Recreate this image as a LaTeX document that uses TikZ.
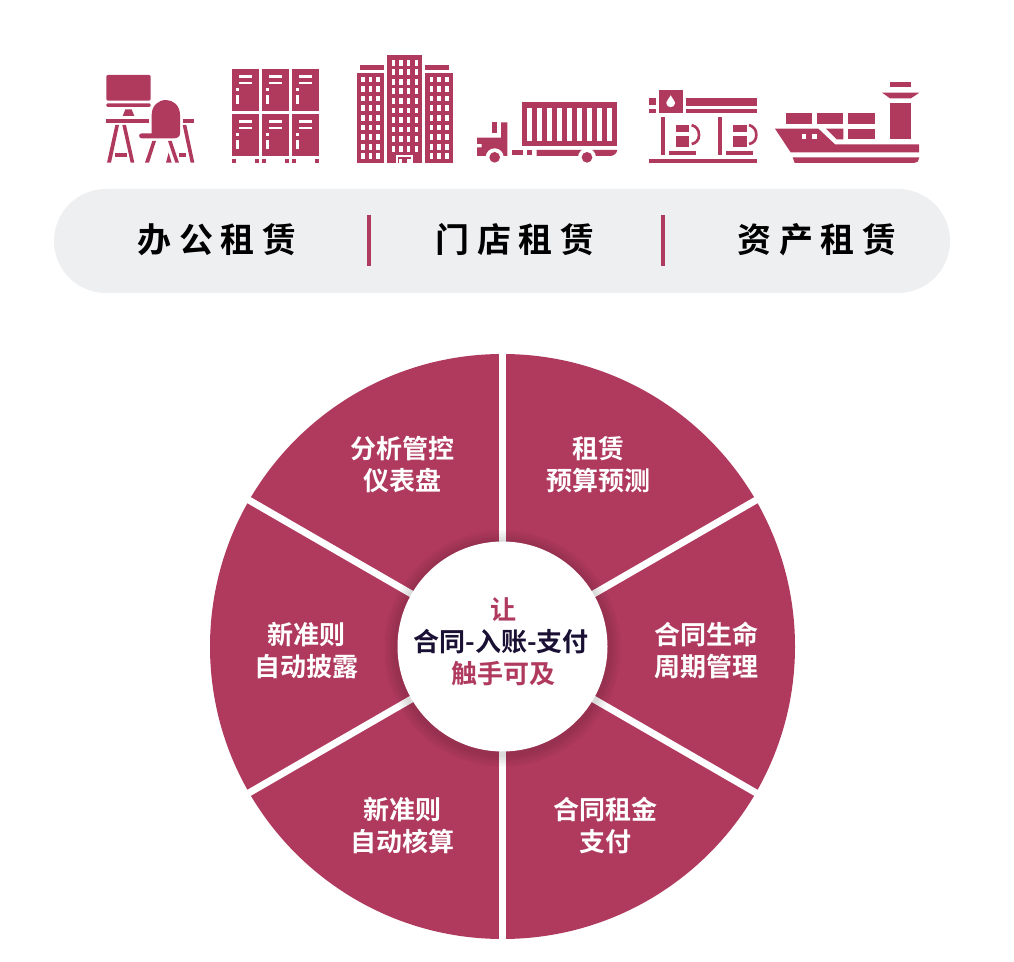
\documentclass[tikz,border=0pt]{standalone}
\usepackage{fontspec}
\newfontfamily\cjk{Noto Sans CJK SC}[BoldFont={Noto Sans CJK SC Bold}]
\definecolor{rose}{HTML}{B03A5E}
\definecolor{pill}{HTML}{EEEFF1}
\definecolor{ink}{HTML}{1A1033}
\newcommand{\gp}{\kern 5.9pt}
\tikzset{
  ic/.style={fill=rose,draw=none},
  wt/.style={fill=white,draw=none},
  zoomed/.style={x=0.25pt,y=-0.25pt},
  gapline/.style={draw=white,line width=5.2pt},
  divider/.style={draw=rose,line width=3pt},
  tab/.style={font=\cjk\bfseries\fontsize{25.5}{30}\selectfont,text=black,inner sep=0pt,anchor=center},
  seg/.style={font=\cjk\bfseries\fontsize{19.5}{24}\selectfont,text=white,align=center,inner sep=0pt},
  hubtext/.style={font=\cjk\bfseries\fontsize{19.5}{24}\selectfont,align=center,inner sep=0pt},
}
\begin{document}
\begin{tikzpicture}[x=0.75pt,y=-0.75pt]
\useasboundingbox (0,0) rectangle (1014,962);
\fill[white] (0,0) rectangle (1014,962);

% --- icon: desk and chair, locker
\begin{scope}[shift={(90,40)},zoomed]
  \fill[ic,rounded corners=1pt] (49,105) rectangle (182,182);
  \fill[ic,rounded corners=1pt] (49,190) rectangle (182,201);
  \fill[ic] (98,228) -- (106,208) -- (125,208) -- (133,228) -- cycle;
  \fill[ic] (49,237) rectangle (177,248);
  \fill[ic] (278,237) rectangle (313,248);
  \fill[ic] (76,255) -- (87,255) -- (63,368) -- (51,368) -- cycle;
  \fill[ic] (97,255) -- (108,255) -- (133,368) -- (122,368) -- cycle;
  \fill[ic] (75,340) rectangle (110,350);
  \fill[ic] (278,255) -- (289,255) -- (313,368) -- (302,368) -- cycle;
  \fill[ic] (268,340) rectangle (288,350);
  \fill[ic] (185,280) -- (185,225) .. controls (185,197) and (205,180) .. (228,180)
     .. controls (250,180) and (270,197) .. (270,225) -- (270,280)
     .. controls (270,290) and (262,295) .. (252,295) -- (155,295)
     .. controls (145,295) and (145,280) .. (155,280) -- cycle;
  \fill[ic] (187,303) -- (198,303) -- (177,368) -- (165,368) -- cycle;
  \fill[ic] (234,303) -- (245,303) -- (267,368) -- (256,368) -- cycle;
  \fill[ic] (236,338) -- (245,368) -- (228,368) -- cycle;
  \foreach \cx in {426,516,606}{
    \foreach \cy in {88,223}{
      \fill[ic] (\cx,\cy) rectangle ++(81,126);
      \fill[wt] (\cx+21,\cy+17) rectangle ++(40,8);
      \fill[wt] (\cx+21,\cy+37) rectangle ++(40,8);
      \fill[wt] (\cx+12,\cy+56) rectangle ++(8,8);
      \fill[wt] (\cx+12,\cy+76) rectangle ++(8,29);
    }
    \fill[ic] (\cx,358) rectangle ++(12,11);
    \fill[ic] (\cx+70,358) rectangle ++(11,11);
  }
\end{scope}

% --- icon: towers, truck
\begin{scope}[shift={(340,40)},zoomed]
  \fill[ic] (50,98) rectangle (132,369);
  \fill[ic] (60,75) rectangle (132,89);
  \fill[ic] (141,46) rectangle (246,369);
  \fill[ic] (256,98) rectangle (338,369);
  \fill[ic] (256,75) rectangle (327,89);
  \foreach \wy in {110,139,167,196,225,254,283,312,340}{
    \foreach \wx in {63,86,109,269,292,315}{
      \fill[wt] (\wx,\wy) rectangle ++(11,17);
    }
  }
  \foreach \wy in {60,88,117,145,174,203,232,260,289,318}{
    \foreach \wx in {155,178,201,224}{
      \fill[wt] (\wx,\wy) rectangle ++(10,17);
    }
  }
  \fill[wt] (167,345) rectangle (220,369);
  \fill[ic] (175,352) rectangle (212,369);
  \fill[wt] (177,358) rectangle (187,369);
  \fill[wt] (202,358) rectangle (212,369);
  % truck
  \fill[ic] (545,187) rectangle (832,317);
  \foreach \i in {0,...,8}{
    \fill[wt] (560+30*\i,203) rectangle ++(16,99);
  }
  \fill[ic] (411,293) -- (483,293) -- (483,247) -- (502,247) -- (502,348) -- (411,348) -- (411,322) -- (425,322) -- (425,312) -- (411,312) -- cycle;
  \fill[ic] (456,247) rectangle (471,280);
  \fill[ic] (516,330) rectangle (550,346);
  \fill[ic] (561,330) rectangle (577,346);
  \fill[ic] (590,330) -- (832,330) .. controls (830,340) and (822,348) .. (810,348) -- (590,348) -- cycle;
  \fill[wt] (464,352) circle (27);
  \fill[ic] (464,352) circle (16);
  \fill[wt] (741,352) circle (27);
  \fill[ic] (741,352) circle (16);
\end{scope}

% --- icon: fuel station, ship
\begin{scope}[shift={(640,70)},zoomed]
  \fill[ic] (28,85) rectangle (48,105);
  \fill[ic] (28,117) rectangle (48,130);
  \fill[ic] (57,60) rectangle (128,130);
  \fill[wt] (92,76) .. controls (98,86) and (105,94) .. (105,100)
     .. controls (105,115) and (79,115) .. (79,100)
     .. controls (79,94) and (86,86) .. (92,76) -- cycle;
  \fill[ic] (137,85) rectangle (351,107);
  \fill[ic] (137,117) rectangle (351,130);
  \fill[ic] (28,267) rectangle (351,279);
  \foreach \px in {0,172}{
    \fill[ic] (63+\px,140) rectangle ++(12,116);
    \fill[ic] (108+\px,165) rectangle ++(40,22);
    \fill[ic] (108+\px,197) rectangle ++(40,35);
    \fill[ic] (86+\px,243) rectangle ++(82,13);
    \draw[rose,line width=2pt] (155+\px,165) .. controls (170+\px,170) and (177+\px,180) .. (177+\px,195)
       .. controls (177+\px,210) and (168+\px,220) .. (155+\px,222);
  }
  % ship
  \fill[ic] (750,37) rectangle (813,52);
  \fill[ic] (726,68) -- (838,68) -- (813,85) -- (750,85) -- cycle;
  \fill[ic] (750,98) rectangle (813,208);
  \fill[ic] (437,130) rectangle (516,161);
  \fill[ic] (531,130) rectangle (610,161);
  \fill[ic] (625,130) rectangle (705,161);
  \fill[ic] (558,176) -- (610,176) -- (610,208) -- (590,208) -- cycle;
  \fill[ic] (625,176) rectangle (705,208);
  \fill[ic] (405,176) -- (535,176) -- (585,223) -- (837,223) -- (837,247) -- (452,247) -- cycle;
  \fill[wt] (486,193) rectangle (499,206);
  \fill[wt] (516,193) rectangle (530,206);
  \fill[ic] (458,262) -- (837,262) -- (837,266) .. controls (837,274) and (830,279) .. (822,279) -- (464,279) -- cycle;
\end{scope}

% --- category band
\fill[pill,rounded corners=39pt] (54,189) rectangle (950,293);
\node[tab] (tabA) at (217,239.5) {办\gp 公\gp 租\gp 赁};
\node[tab] (tabB) at (515,239.5) {门\gp 店\gp 租\gp 赁};
\node[tab] (tabC) at (817,239.5) {资\gp 产\gp 租\gp 赁};
\draw[divider] (369,215) -- (369,266);
\draw[divider] (663,215) -- (663,266);

% --- wheel
\coordinate (c) at (502.5,646.5);
\fill[rose] (c) circle (292.5);
\foreach \a in {30,90,150,210,270,330}{
  \draw[gapline] (c) -- ++(\a:296);
}
\foreach \r in {118,115,112,109}{
  \fill[black,opacity=0.035] (502.5,648.5) circle (\r);
}
\node[circle,fill=white,minimum size=157.5pt,inner sep=0pt] (hub) at (c) {};

\node[seg] (s1) at (402.5,464.5) {分析管控\\仪表盘};
\node[seg] (s2) at (598.5,464.5) {租赁\\预算预测};
\node[seg] (s3) at (706,650.5) {合同生命\\周期管理};
\node[seg] (s4) at (605,825.5) {合同租金\\支付};
\node[seg] (s5) at (402.5,825.5) {新准则\\自动核算};
\node[seg] (s6) at (306.5,650.5) {新准则\\自动披露};
\node[hubtext] (hubt) at (503,641.5) {\textcolor{rose}{让}\\\textcolor{ink}{合同-入账-支付}\kern3pt\\\textcolor{rose}{触手可及}};
\end{tikzpicture}
\end{document}
